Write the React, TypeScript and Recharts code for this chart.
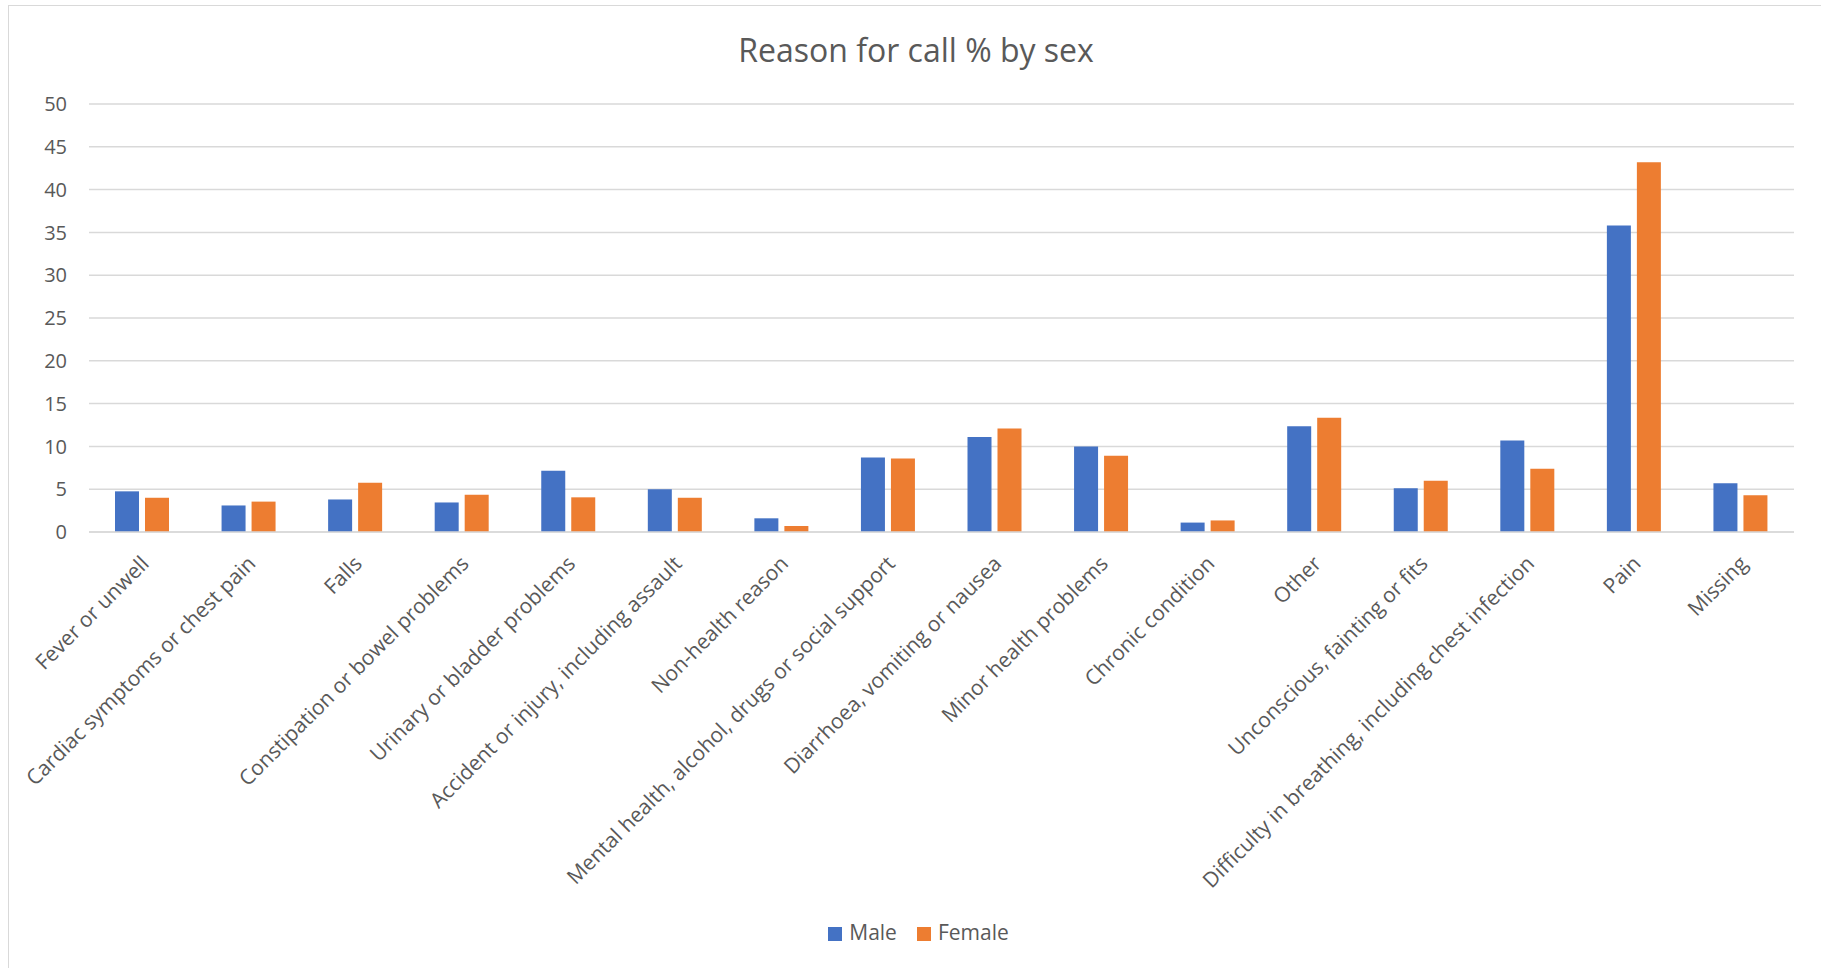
import { BarChart, Bar, XAxis, YAxis, CartesianGrid, Legend } from "recharts";

const categories = [
  "Fever or unwell",
  "Cardiac symptoms or chest pain",
  "Falls",
  "Constipation or bowel problems",
  "Urinary or bladder problems",
  "Accident or injury, including assault",
  "Non-health reason",
  "Mental health, alcohol, drugs or social support",
  "Diarrhoea, vomiting or nausea",
  "Minor health problems",
  "Chronic condition",
  "Other",
  "Unconscious, fainting or fits",
  "Difficulty in breathing, including chest infection",
  "Pain",
  "Missing",
];

const male = [4.75, 3.1, 3.8, 3.45, 7.15, 5.0, 1.6, 8.7, 11.1, 10.0, 1.1, 12.35, 5.1, 10.7, 35.8, 5.7];
const female = [4.0, 3.55, 5.75, 4.35, 4.05, 4.0, 0.7, 8.6, 12.1, 8.9, 1.35, 13.35, 6.0, 7.4, 43.2, 4.3];

const yTicks = [0, 5, 10, 15, 20, 25, 30, 35, 40, 45, 50];

const data = categories.map((name, i) => ({
  name,
  Male: male[i],
  Female: female[i],
}));

const FONT = "'Open Sans', sans-serif";
const TEXT = "#595959";

// rotated category labels, text end sits just right of the tick
const AngledTick = ({ x, y, payload }: any) => (
  <g transform={`translate(${x + 8},${y + 33}) rotate(-45)`}>
    <text textAnchor="end" fill={TEXT} fontSize={21} fontFamily={FONT}>
      {payload.value}
    </text>
  </g>
);

const App = () => {
  return (
    <div
      style={{
        position: "absolute",
        left: 0,
        top: 0,
        width: 1821,
        height: 968,
        background: "#fff",
        overflow: "hidden",
        fontFamily: FONT,
      }}
    >
      <div
        style={{
          position: "absolute",
          left: 8,
          top: 5,
          width: 1830,
          height: 980,
          borderLeft: "1px solid #d9d9d9",
          borderTop: "1px solid #d9d9d9",
        }}
      />
      <div
        style={{
          position: "absolute",
          left: 0,
          top: 28,
          width: 1832,
          textAlign: "center",
          fontSize: 32,
          color: TEXT,
        }}
      >
        Reason for call % by sex
      </div>
      <div style={{ position: "absolute", left: 0, top: 0 }}>
        <BarChart
          width={1821}
          height={968}
          data={data}
          margin={{ top: 104, right: 27, bottom: 0, left: 0 }}
          barGap={6}
          barSize={24}
        >
          <CartesianGrid vertical={false} stroke="#d9d9d9" strokeWidth={1.5} />
          <XAxis
            dataKey="name"
            interval={0}
            height={436}
            tickLine={false}
            tickSize={0}
            tickMargin={0}
            axisLine={{ stroke: "#d9d9d9", strokeWidth: 1.5 }}
            tick={<AngledTick />}
          />
          <YAxis
            width={89}
            domain={[0, 50]}
            ticks={yTicks}
            axisLine={false}
            tickLine={false}
            tickSize={0}
            tickMargin={22}
            tick={{ fill: TEXT, fontSize: 20, fontFamily: FONT }}
          />
          <Legend
            layout="horizontal"
            verticalAlign="middle"
            align="center"
            iconType="square"
            iconSize={14}
            itemSorter={(item: any) => (item.dataKey === "Male" ? 0 : 1)}
            wrapperStyle={{ top: 918, left: 18, width: 1821, fontSize: 21, fontFamily: FONT }}
            formatter={(value: string) => (
              <span style={{ color: TEXT, marginLeft: 3, marginRight: 10 }}>{value}</span>
            )}
          />
          <Bar dataKey="Male" fill="#4472C4" isAnimationActive={false} />
          <Bar dataKey="Female" fill="#ED7D31" isAnimationActive={false} />
        </BarChart>
      </div>
    </div>
  );
};

export default App;
